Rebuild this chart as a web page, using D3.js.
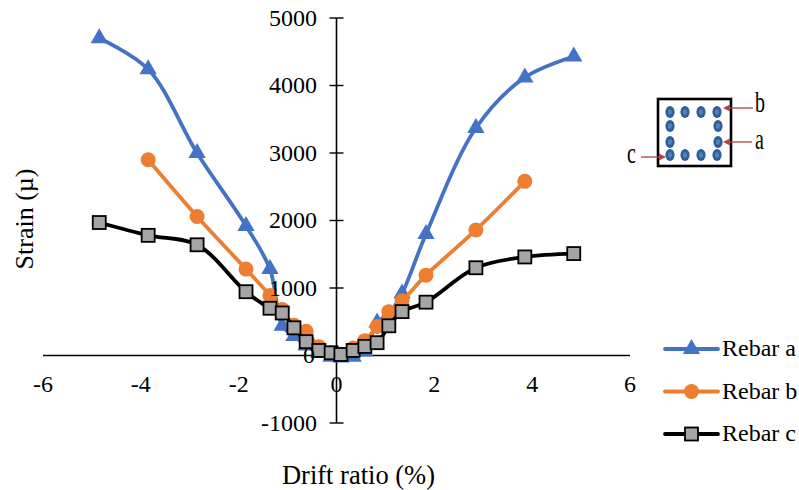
<!DOCTYPE html>
<html>
<head>
<meta charset="utf-8">
<script src="https://cdn.jsdelivr.net/npm/d3@7"></script>
<style>
  html, body { margin: 0; padding: 0; background: #fff; }
  svg { display: block; }
  text { font-family: "Liberation Serif", serif; fill: #000; }
</style>
</head>
<body>
<div id="chart"></div>
<script>
var xTicks = [-6, -4, -2, 0, 2, 4, 6];
var yTicks = [-1000, 0, 1000, 2000, 3000, 4000, 5000];

var rebarADrift = [-4.85, -3.85, -2.85, -1.85, -1.36, -1.11, -0.87, -0.62, -0.36, -0.11, 0.09, 0.34, 0.58, 0.83, 1.07, 1.34, 1.83, 2.85, 3.85, 4.85];
var rebarAStrain = [4700, 4240, 3000, 1920, 1280, 440, 290, 150, 40, -20, -30, -20, 60, 490, 620, 920, 1800, 3370, 4120, 4430];

var rebarBDrift = [-3.85, -2.85, -1.85, -1.36, -1.11, -0.87, -0.62, -0.36, -0.11, 0.09, 0.34, 0.58, 0.83, 1.07, 1.34, 1.83, 2.85, 3.85];
var rebarBStrain = [2900, 2060, 1280, 890, 680, 450, 360, 130, 40, 20, 110, 220, 430, 650, 810, 1190, 1860, 2580];

var rebarCDrift = [-4.85, -3.85, -2.85, -1.85, -1.36, -1.11, -0.87, -0.62, -0.36, -0.11, 0.09, 0.34, 0.58, 0.83, 1.07, 1.34, 1.83, 2.85, 3.85, 4.85];
var rebarCStrain = [1970, 1780, 1640, 945, 700, 630, 410, 205, 75, 40, 15, 75, 135, 190, 440, 650, 790, 1300, 1460, 1510];

var seriesNames = ["Rebar a", "Rebar b", "Rebar c"];
var seriesColors = ["#4472c4", "#ed7d31", "#000000"];

var svg = d3.select("#chart").append("svg").attr("width", 799).attr("height", 490);

var x = d3.scaleLinear().domain([-6, 6]).range([43, 630]);
var y = d3.scaleLinear().domain([-1000, 5000]).range([423, 18]);

// axes cross at zero
svg.append("line").attr("x1", x(-6)).attr("x2", x(6)).attr("y1", y(0)).attr("y2", y(0))
  .attr("stroke", "#000").attr("stroke-width", 1.6);
svg.append("line").attr("x1", x(0)).attr("x2", x(0)).attr("y1", y(5000)).attr("y2", y(-1000))
  .attr("stroke", "#000").attr("stroke-width", 1.6);

svg.selectAll(".ytick").data(yTicks).enter().append("line")
  .attr("class", "ytick")
  .attr("x1", x(0) - 7).attr("x2", x(0) + 7)
  .attr("y1", function(d) { return y(d); }).attr("y2", function(d) { return y(d); })
  .attr("stroke", "#000").attr("stroke-width", 1.4);

var line = d3.line()
  .x(function(d) { return x(d[0]); })
  .y(function(d) { return y(d[1]); })
  .curve(d3.curveCatmullRom.alpha(0.5));

function drawMarker(g, kind, cx, cy) {
  if (kind == 0) {
    g.append("path")
      .attr("d", d3.symbol().type(d3.symbolTriangle).size(130)())
      .attr("transform", "translate(" + cx + "," + cy + ")")
      .attr("fill", seriesColors[0]);
  } else if (kind == 1) {
    g.append("circle").attr("cx", cx).attr("cy", cy).attr("r", 7.5)
      .attr("fill", seriesColors[1]);
  } else {
    g.append("rect").attr("x", cx - 6.5).attr("y", cy - 6.5).attr("width", 13).attr("height", 13)
      .attr("fill", "#a5a5a5").attr("stroke", "#000").attr("stroke-width", 1.8);
  }
}

var allSeries = [
  d3.zip(rebarADrift, rebarAStrain),
  d3.zip(rebarBDrift, rebarBStrain),
  d3.zip(rebarCDrift, rebarCStrain)
];

allSeries.forEach(function(points, i) {
  var g = svg.append("g").attr("class", "series");
  g.append("path").attr("d", line(points))
    .attr("fill", "none")
    .attr("stroke", seriesColors[i])
    .attr("stroke-width", 3.8)
    .attr("stroke-linecap", "round");
  points.forEach(function(p) {
    drawMarker(g, i, x(p[0]), y(p[1]));
  });
});

// labels sit on top of the marks
svg.selectAll(".xlabel").data(xTicks).enter().append("text")
  .attr("class", "xlabel")
  .attr("x", function(d) { return x(d); })
  .attr("y", 392)
  .attr("text-anchor", "middle")
  .attr("font-size", 24)
  .text(function(d) { return d; });

svg.selectAll(".ylabel").data(yTicks).enter().append("text")
  .attr("class", "ylabel")
  .attr("x", function(d) { return d == 0 ? 315 : 317; })
  .attr("y", function(d) { return y(d) + 7.5; })
  .attr("text-anchor", "end")
  .attr("font-size", 24)
  .text(function(d) { return d; });

svg.append("text").attr("x", 358.5).attr("y", 484).attr("text-anchor", "middle")
  .attr("font-size", 26.5).text("Drift ratio (%)");
svg.append("text").attr("transform", "translate(33,219) rotate(-90)").attr("text-anchor", "middle")
  .attr("font-size", 26).text("Strain (µ)");

// legend
var legendY = d3.scalePoint().domain(seriesNames).range([349, 434]);
seriesNames.forEach(function(name, i) {
  var ly = legendY(name);
  var g = svg.append("g").attr("class", "legend");
  g.append("line").attr("x1", 665).attr("x2", 718).attr("y1", ly).attr("y2", ly)
    .attr("stroke", seriesColors[i]).attr("stroke-width", 3.8).attr("stroke-linecap", "round");
  drawMarker(g, i, 691.5, ly);
  g.append("text").attr("x", 722).attr("y", ly + 7).attr("font-size", 24).text(name);
});

// section sketch
var barX = [670, 685, 701, 717];
var barY = [112, 155];
var sideY = [126, 142];
var sideX = [670, 718];
var inset = svg.append("g").attr("class", "section");
inset.append("rect").attr("x", 658).attr("y", 99).attr("width", 73).attr("height", 67)
  .attr("fill", "#fff").attr("stroke", "#000").attr("stroke-width", 2.6);

function drawBar(cx, cy) {
  inset.append("ellipse").attr("cx", cx).attr("cy", cy).attr("rx", 4.6).attr("ry", 6)
    .attr("fill", "#2f5f97");
  inset.append("ellipse").attr("cx", cx).attr("cy", cy).attr("rx", 2).attr("ry", 2.8)
    .attr("fill", "#4f81bd");
}
barY.forEach(function(by) { barX.forEach(function(bx) { drawBar(bx, by); }); });
sideY.forEach(function(by) { sideX.forEach(function(bx) { drawBar(bx, by); }); });

var arrows = [
  { x1: 753, y1: 108, x2: 723, y2: 108 },
  { x1: 752, y1: 142, x2: 723, y2: 142 },
  { x1: 641, y1: 157, x2: 666, y2: 157 }
];
arrows.forEach(function(a) {
  var dir = a.x2 > a.x1 ? -1 : 1;
  inset.append("line").attr("x1", a.x1).attr("y1", a.y1).attr("x2", a.x2 + dir * 5).attr("y2", a.y2)
    .attr("stroke", "#b5404a").attr("stroke-width", 1.3);
  inset.append("path")
    .attr("d", "M" + a.x2 + "," + a.y2 + "L" + (a.x2 + dir * 7) + "," + (a.y2 - 3.5) + "L" + (a.x2 + dir * 7) + "," + (a.y2 + 3.5) + "Z")
    .attr("fill", "#b5404a");
});

var insetLabels = [
  { t: "b", x: 755, y: 112 },
  { t: "a", x: 755, y: 149 },
  { t: "c", x: 627, y: 163 }
];
insetLabels.forEach(function(l) {
  inset.append("text").attr("transform", "translate(" + l.x + "," + l.y + ") scale(1,1.45)")
    .attr("font-size", 20).text(l.t);
});
</script>
</body>
</html>
